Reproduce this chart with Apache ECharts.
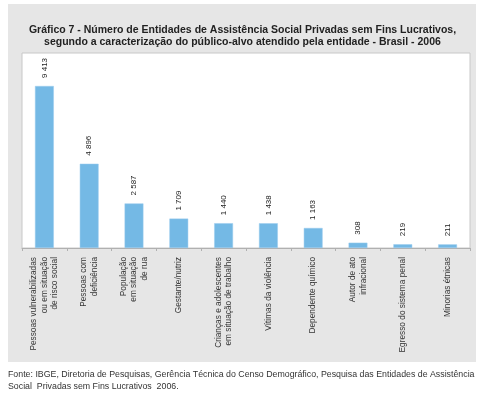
<!DOCTYPE html>
<html>
<head>
<meta charset="utf-8">
<script src="https://cdn.jsdelivr.net/npm/echarts@6/dist/echarts.min.js"></script>
<style>
html, body { margin: 0; padding: 0; background: #fff; }
#chart { width: 485px; height: 396px; }
</style>
</head>
<body>
<div id="chart"></div>
<script>
// público-alvo
const categories = [
    'Pessoas vulnerabilizadas\nou em situação\nde risco social',
    'Pessoas com\ndeficiência',
    'População\nem situação\nde rua',
    'Gestante/nutriz',
    'Crianças e adolescentes\nem situação de trabalho',
    'Vítimas da violência',
    'Dependente químico',
    'Autor de ato\ninfracional',
    'Egresso do sistema penal',
    'Minorias étnicas'
];
const values = [9413, 4896, 2587, 1709, 1440, 1438, 1163, 308, 219, 211];

const fmt = v => String(v).replace(/\B(?=(\d{3})+(?!\d))/g, ' ');

const chart = echarts.init(document.getElementById('chart'));
chart.setOption({
    animation: false,
    textStyle: { fontFamily: 'Liberation Sans, Arial, sans-serif' },
    graphic: [
        {
            type: 'rect', z: -10,
            shape: { x: 8, y: 4, width: 468, height: 358 },
            style: { fill: '#e6e6e6' }
        },
        {
            type: 'text', left: 8, top: 369,
            style: {
                text: 'Fonte: IBGE, Diretoria de Pesquisas, Gerência Técnica do Censo Demográfico, Pesquisa das Entidades de Assistência\nSocial  Privadas sem Fins Lucrativos  2006.',
                font: '8.8px Liberation Sans, Arial, sans-serif',
                fill: '#333', lineHeight: 12
            }
        }
    ],
    title: {
        text: 'Gráfico 7 - Número de Entidades de Assistência Social Privadas sem Fins Lucrativos,\nsegundo a caracterização do público-alvo atendido pela entidade - Brasil - 2006',
        left: 'center', top: 19,
        textStyle: { fontSize: 10.5, fontWeight: 'bold', color: '#222', lineHeight: 12 }
    },
    grid: {
        left: 22, right: 15, top: 53, bottom: 148,
        show: true, backgroundColor: '#fff', borderColor: '#c8c8c8', borderWidth: 1
    },
    xAxis: {
        type: 'category',
        data: categories,
        axisLine: { lineStyle: { color: '#b0b0b0' } },
        axisTick: { show: true, length: 3, lineStyle: { color: '#b0b0b0' } },
        axisLabel: {
            rotate: 90, interval: 0, fontSize: 8.3, color: '#333', margin: 9, lineHeight: 10.5
        }
    },
    yAxis: {
        type: 'value', min: 0, max: 11330,
        show: false, splitLine: { show: false }
    },
    series: [{
        type: 'bar',
        data: values,
        barWidth: '42%',
        itemStyle: { color: '#74b9e5', borderColor: '#9ccdee', borderWidth: 0.5 },
        label: {
            show: true, position: 'top', rotate: 90, distance: 8,
            align: 'left', verticalAlign: 'middle',
            fontSize: 8, color: '#222',
            formatter: p => fmt(p.value)
        }
    }]
});
</script>
</body>
</html>
